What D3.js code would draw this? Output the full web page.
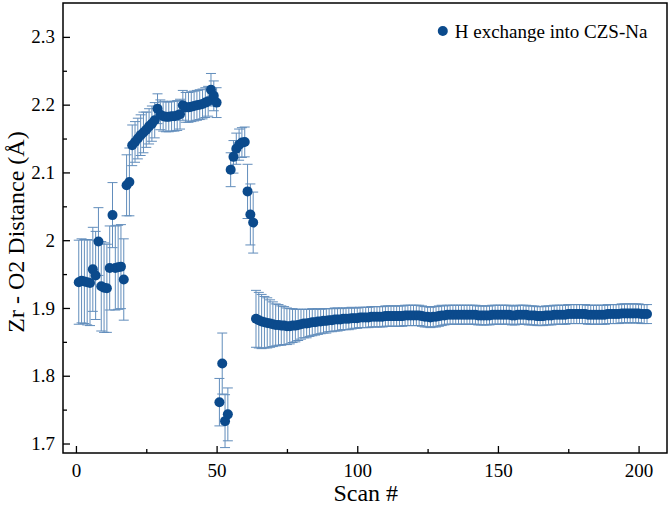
<!DOCTYPE html>
<html>
<head>
<meta charset="utf-8">
<script src="https://cdn.jsdelivr.net/npm/d3@7/dist/d3.min.js"></script>
<style>
  html, body { margin: 0; padding: 0; background: #fff; }
  svg text { font-family: 'Liberation Serif', 'Times New Roman', serif; fill: #000; }
</style>
</head>
<body>
<div id="chart"></div>
<script>
// Zr - O2 distance per scan (scan # = index + 1)
const distance = [
  1.938, 1.940, 1.939, 1.938, 1.937, 1.957, 1.948, 1.998, 1.932, 1.930,
  1.929, 1.959, 2.037, 1.959, 1.960, 1.961, 1.942, 2.081, 2.086, 2.140,
  2.145, 2.150, 2.155, 2.159, 2.163, 2.168, 2.172, 2.177, 2.194, 2.185,
  2.183, 2.182, 2.182, 2.183, 2.183, 2.184, 2.186, 2.199, 2.196, 2.196,
  2.197, 2.198, 2.199, 2.200, 2.201, 2.203, 2.205, 2.222, 2.213, 2.203,
  1.761, 1.818, 1.733, 1.743, 2.104, 2.123, 2.135, 2.141, 2.144, 2.145,
  2.072, 2.038, 2.026, 1.884, 1.882, 1.880, 1.879, 1.878, 1.877, 1.876,
  1.875, 1.875, 1.874, 1.874, 1.873, 1.873, 1.874, 1.874, 1.875, 1.876,
  1.877, 1.877, 1.878, 1.879, 1.879, 1.880, 1.880, 1.881, 1.881, 1.882,
  1.882, 1.883, 1.883, 1.883, 1.884, 1.884, 1.884, 1.885, 1.885, 1.885,
  1.886, 1.886, 1.886, 1.886, 1.887, 1.887, 1.887, 1.887, 1.887, 1.888,
  1.888, 1.888, 1.888, 1.888, 1.888, 1.888, 1.889, 1.889, 1.889, 1.889,
  1.889, 1.889, 1.888, 1.887, 1.887, 1.886, 1.887, 1.887, 1.888, 1.889,
  1.889, 1.890, 1.890, 1.890, 1.890, 1.890, 1.890, 1.890, 1.890, 1.890,
  1.890, 1.890, 1.889, 1.889, 1.889, 1.889, 1.889, 1.890, 1.890, 1.890,
  1.890, 1.890, 1.890, 1.890, 1.889, 1.889, 1.890, 1.890, 1.890, 1.890,
  1.889, 1.889, 1.889, 1.888, 1.888, 1.888, 1.889, 1.889, 1.889, 1.890,
  1.890, 1.890, 1.890, 1.890, 1.891, 1.891, 1.891, 1.891, 1.891, 1.891,
  1.891, 1.890, 1.890, 1.890, 1.890, 1.890, 1.890, 1.890, 1.891, 1.891,
  1.891, 1.891, 1.891, 1.892, 1.892, 1.892, 1.892, 1.892, 1.892, 1.892,
  1.891, 1.891, 1.891
];

// symmetric error (± Å) per scan
const errorBars = [
  0.062, 0.062, 0.062, 0.063, 0.063, 0.062, 0.065, 0.050, 0.066, 0.066,
  0.065, 0.062, 0.048, 0.062, 0.062, 0.062, 0.060, 0.045, 0.050, 0.030,
  0.030, 0.030, 0.030, 0.030, 0.026, 0.026, 0.026, 0.026, 0.022, 0.022,
  0.022, 0.022, 0.022, 0.022, 0.022, 0.022, 0.022, 0.022, 0.022, 0.022,
  0.022, 0.022, 0.022, 0.022, 0.022, 0.022, 0.022, 0.024, 0.022, 0.022,
  0.035, 0.045, 0.039, 0.039, 0.025, 0.024, 0.023, 0.023, 0.022, 0.022,
  0.040, 0.045, 0.045, 0.042, 0.041, 0.040, 0.038, 0.037, 0.035, 0.033,
  0.031, 0.030, 0.029, 0.028, 0.027, 0.026, 0.025, 0.024, 0.023, 0.022,
  0.021, 0.021, 0.020, 0.020, 0.019, 0.019, 0.018, 0.018, 0.018, 0.017,
  0.017, 0.017, 0.017, 0.016, 0.016, 0.016, 0.016, 0.016, 0.015, 0.015,
  0.015, 0.015, 0.015, 0.015, 0.015, 0.015, 0.015, 0.015, 0.015, 0.015,
  0.015, 0.015, 0.015, 0.015, 0.015, 0.015, 0.015, 0.015, 0.015, 0.015,
  0.015, 0.015, 0.015, 0.015, 0.015, 0.015, 0.015, 0.015, 0.015, 0.015,
  0.014, 0.014, 0.014, 0.014, 0.014, 0.014, 0.014, 0.014, 0.014, 0.014,
  0.014, 0.014, 0.014, 0.014, 0.014, 0.014, 0.014, 0.014, 0.014, 0.014,
  0.014, 0.014, 0.014, 0.014, 0.014, 0.014, 0.014, 0.014, 0.014, 0.014,
  0.014, 0.014, 0.014, 0.014, 0.014, 0.014, 0.014, 0.014, 0.014, 0.014,
  0.014, 0.014, 0.014, 0.014, 0.014, 0.014, 0.014, 0.014, 0.014, 0.014,
  0.014, 0.014, 0.014, 0.014, 0.014, 0.014, 0.014, 0.014, 0.014, 0.014,
  0.014, 0.014, 0.014, 0.014, 0.014, 0.014, 0.014, 0.014, 0.014, 0.014,
  0.014, 0.014, 0.014
];

const xTicks = [0, 50, 100, 150, 200];
const xMinorTicks = [25, 75, 125, 175];
const yTicks = [1.7, 1.8, 1.9, 2.0, 2.1, 2.2, 2.3];
const yMinorTicks = [1.75, 1.85, 1.95, 2.05, 2.15, 2.25];
const seriesLabel = 'H exchange into CZS-Na';

const data = distance.map((v, i) => ({ scan: i + 1, value: v, err: errorBars[i] }));

const width = 669;
const height = 507;
const margin = { top: 3, right: 2, bottom: 54, left: 63 };
const innerWidth = width - margin.left - margin.right;
const innerHeight = height - margin.top - margin.bottom;

const markColor = '#0b4a8c';
const errColor = '#2e68a6';

const x = d3.scaleLinear().domain([-4.6, 210.1]).range([0, innerWidth]);
const y = d3.scaleLinear().domain([1.686, 2.350]).range([innerHeight, 0]);

const svg = d3.select('#chart').append('svg').attr('width', width).attr('height', height);
const g = svg.append('g').attr('transform', `translate(${margin.left},${margin.top})`);

// error bars
const eb = g.append('g').attr('stroke', errColor).attr('stroke-width', 1).attr('opacity', 0.75);
eb.selectAll('.ebar').data(data).join('line')
  .attr('x1', (d) => x(d.scan)).attr('x2', (d) => x(d.scan))
  .attr('y1', (d) => y(d.value - d.err)).attr('y2', (d) => y(d.value + d.err));
eb.selectAll('.ecap-top').data(data).join('line')
  .attr('x1', (d) => x(d.scan) - 5).attr('x2', (d) => x(d.scan) + 5)
  .attr('y1', (d) => y(d.value + d.err)).attr('y2', (d) => y(d.value + d.err));
eb.selectAll('.ecap-bot').data(data).join('line')
  .attr('x1', (d) => x(d.scan) - 5).attr('x2', (d) => x(d.scan) + 5)
  .attr('y1', (d) => y(d.value - d.err)).attr('y2', (d) => y(d.value - d.err));

// markers
g.append('g').selectAll('circle').data(data).join('circle')
  .attr('cx', (d) => x(d.scan))
  .attr('cy', (d) => y(d.value))
  .attr('r', 5)
  .attr('fill', markColor);

// axes, ticks inward
const xAxis = g.append('g').attr('transform', `translate(0,${innerHeight})`)
  .call(d3.axisBottom(x).tickValues(xTicks).tickSize(-7).tickPadding(11).tickSizeOuter(0));
const xMinor = g.append('g').attr('transform', `translate(0,${innerHeight})`)
  .call(d3.axisBottom(x).tickValues(xMinorTicks).tickSize(-4).tickSizeOuter(0));
const yAxis = g.append('g')
  .call(d3.axisLeft(y).tickValues(yTicks).tickSize(-7).tickPadding(8).tickSizeOuter(0)
    .tickFormat((d) => d3.format('~g')(d)));
const yMinor = g.append('g')
  .call(d3.axisLeft(y).tickValues(yMinorTicks).tickSize(-4).tickSizeOuter(0));

xMinor.selectAll('text').remove();
yMinor.selectAll('text').remove();
g.selectAll('.domain').remove();
g.selectAll('.tick line').attr('stroke', '#000').attr('stroke-width', 1.3);
xAxis.selectAll('text').attr('font-size', 19).attr('font-family', "'Liberation Serif', serif");
yAxis.selectAll('text').attr('font-size', 19).attr('font-family', "'Liberation Serif', serif");

// frame
g.append('rect')
  .attr('x', 0).attr('y', 0)
  .attr('width', innerWidth).attr('height', innerHeight)
  .attr('fill', 'none').attr('stroke', '#000').attr('stroke-width', 1.5);

// axis titles
svg.append('text')
  .attr('x', margin.left + x(103))
  .attr('y', 501)
  .attr('text-anchor', 'middle')
  .attr('font-size', 24)
  .text('Scan #');

svg.append('text')
  .attr('transform', `translate(24,${margin.top + innerHeight / 2 + 4}) rotate(-90)`)
  .attr('text-anchor', 'middle')
  .attr('font-size', 24)
  .text('Zr - O2 Distance (Å)');

// legend
const legend = g.append('g').attr('transform', `translate(${x(130.4)},28)`);
legend.append('circle').attr('cx', 0).attr('cy', 0).attr('r', 5).attr('fill', markColor);
legend.append('text').attr('x', 12).attr('y', 6.5).attr('font-size', 19).text(seriesLabel);
</script>
</body>
</html>
